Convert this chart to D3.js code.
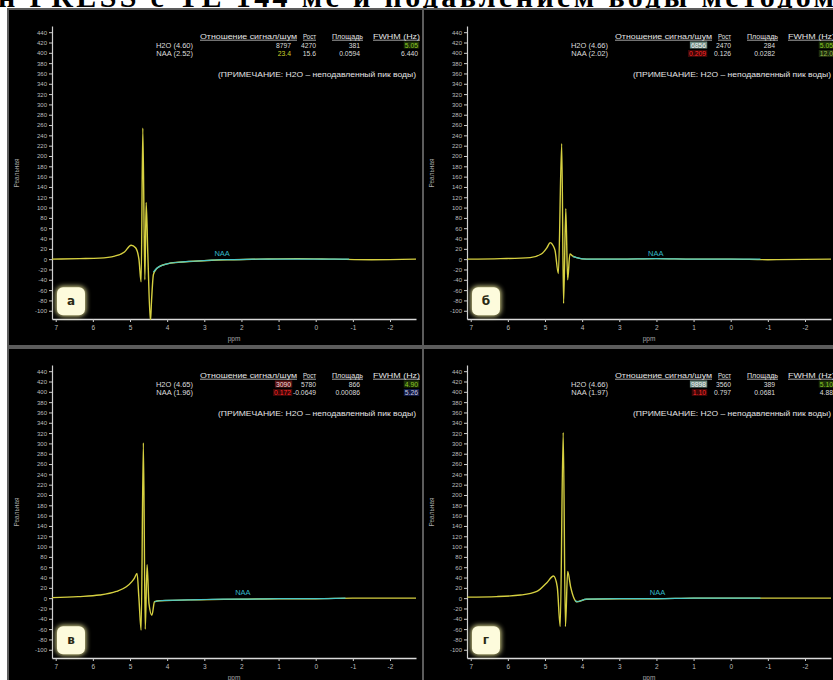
<!DOCTYPE html>
<html lang="ru">
<head>
<meta charset="utf-8">
<script src="https://cdn.jsdelivr.net/npm/d3@7"></script>
<style>
html, body { margin: 0; padding: 0; background: #fff; }
svg { display: block; }
</style>
</head>
<body>
<script>
// ---- data ----
const titleText = "н PRESS с TE 144 мс и подавлением воды методом";
const panelLetters = ["а", "б", "в", "г"];
const xTicks = [7, 6, 5, 4, 3, 2, 1, 0, -1, -2];
const yTicks = [440, 420, 400, 380, 360, 340, 320, 300, 280, 260, 240, 220, 200, 180, 160, 140, 120, 100, 80, 60, 40, 20, 0, -20, -40, -60, -80, -100];
const xTitle = "ppm";
const yTitle = "Реальная";

const tableHeaders = ["Отношение сигнал/шум", "Рост", "Площадь", "FWHM (Hz)"];
const noteText = "(ПРИМЕЧАНИЕ: H2O – неподавленный пик воды)";
const h2oLabels = ["H2O (4.60)", "H2O (4.66)", "H2O (4.65)", "H2O (4.66)"];
const naaLabels = ["NAA (2.52)", "NAA (2.02)", "NAA (1.96)", "NAA (1.97)"];
const naaPpm = [2.52, 2.02, 1.96, 1.97];
const h2oSnr = ["8797", "6856", "3090", "9898"];
const h2oPeak = ["4270", "2470", "5780", "3560"];
const h2oArea = ["381", "284", "866", "389"];
const h2oFwhm = ["5.05", "5.05", "4.90", "5.10"];
const naaSnr = ["23.4", "0.209", "0.172", "1.10"];
const naaPeak = ["15.6", "0.126", "-0.0649", "0.797"];
const naaArea = ["0.0594", "0.0282", "0.00086", "0.0681"];
const naaFwhm = ["6.440", "12.0", "5.26", "4.88"];
// quality flags shown by the software next to each value
const h2oSnrFlag = ["normal", "muted", "alert", "muted"];
const naaSnrFlag = ["good", "fail", "fail", "fail"];
const h2oFwhmFlag = ["pass", "pass", "pass", "pass"];
const naaFwhmFlag = ["normal", "dim", "low", "normal"];

// measured spectra (ppm, real part)
const specPpmA = [7.10, 6.35, 5.82, 5.41, 5.15, 4.97, 4.85, 4.76, 4.70, 4.655, 4.60, 4.565, 4.52, 4.45, 4.42, 4.37, 4.30, 4.20, 4.00, 3.70, 3.30, 2.80, 2.20, 1.50, 0.50, -0.50, -1.50, -2.70];
const specValA = [0, 1, 2, 6, 14, 27, 22, 0, -44, 254, -40, 110, 10, -120, -80, -30, -20, -14, -9, -6, -4, -2, -1, 0, 1, 0, -1, 0];
const specPpmB = [7.09, 6.20, 5.40, 5.10, 4.95, 4.86, 4.78, 4.73, 4.64, 4.55, 4.50, 4.44, 4.39, 4.33, 4.25, 4.15, 3.88, 3.00, 2.00, 1.00, 0.00, -1.00, -2.70];
const specValB = [0, 1, 3, 10, 22, 32, 26, 17, -28, 224, -86, 98, -40, 10, 6, 3, 0, 0, 1, 0, 0, -1, 0];
const specPpmC = [7.10, 6.40, 5.82, 5.37, 5.10, 4.95, 4.88, 4.81, 4.76, 4.70, 4.64, 4.59, 4.54, 4.49, 4.41, 4.34, 4.20, 3.13, 2.00, 1.00, 0.00, -1.00, -2.70];
const specValC = [1, 3, 6, 13, 22, 32, 39, 48, 0, -62, 301, -60, 65, -10, -33, -7, -5, -3, -2, -1, -1, 0, 0];
const specPpmD = [7.09, 6.30, 5.66, 5.22, 4.95, 4.77, 4.67, 4.59, 4.51, 4.45, 4.39, 4.31, 4.22, 4.15, 3.88, 3.00, 2.00, 1.00, 0.00, -1.00, -2.70];
const specValD = [2, 3, 6, 13, 30, 43, 22, -55, 321, -55, 52, 22, 0, -7, -2, -1, -1, 0, 0, 0, 0];

// fitted baseline + NAA model
const fitPpmA = [4.37, 4.30, 4.20, 4.00, 3.70, 3.30, 2.80, 2.52, 2.20, 1.50, 0.50, -0.20, -0.90];
const fitValA = [-25, -19, -14, -9, -6, -4, -2, -1, -1, 0, 0, 0, 0];
const fitPpmB = [4.25, 4.15, 3.88, 3.00, 2.02, 1.00, 0.00, -0.80];
const fitValB = [5, 3, 0, 0, 1, 0, 0, 0];
const fitPpmC = [4.34, 4.20, 3.13, 2.50, 1.96, 1.00, 0.00, -0.80];
const fitValC = [-7, -5, -3, -2, -2, -1, -1, 0];
const fitPpmD = [4.18, 4.15, 3.88, 3.00, 1.97, 1.00, 0.00, -0.80];
const fitValD = [-4, -7, -2, -1, -1, 0, 0, 0];

const specPpm = [specPpmA, specPpmB, specPpmC, specPpmD];
const specVal = [specValA, specValB, specValC, specValD];
const fitPpm = [fitPpmA, fitPpmB, fitPpmC, fitPpmD];
const fitVal = [fitValA, fitValB, fitValC, fitValD];

// ---- drawing ----
const W = 833, H = 680;
const svg = d3.select("body").append("svg").attr("width", W).attr("height", H);
svg.append("rect").attr("width", W).attr("height", H).attr("fill", "#fff");

const defs = svg.append("defs");
const glow = defs.append("filter").attr("id", "glow")
  .attr("x", "-50%").attr("y", "-50%").attr("width", "200%").attr("height", "200%");
glow.append("feGaussianBlur").attr("stdDeviation", 2.6);

// heading line running off the top edge above the panels
svg.append("text")
  .attr("x", -2).attr("y", 7)
  .attr("font-family", "Liberation Serif, Times New Roman, serif")
  .attr("font-weight", "bold").attr("font-size", 30)
  .attr("textLength", 836).attr("lengthAdjust", "spacing")
  .attr("fill", "#000")
  .text(titleText);

const flagStyle = {
  normal: { fill: "#dcdcdc", bg: null },
  good:   { fill: "#cfd22a", bg: null },
  pass:   { fill: "#8cc824", bg: "#1c3008" },
  muted:  { fill: "#f4f4f4", bg: "#6c8a80" },
  alert:  { fill: "#f0d8d8", bg: "#5a1414" },
  fail:   { fill: "#ff2a2a", bg: "#3c0606" },
  dim:    { fill: "#9ab84a", bg: "#1e2e0e" },
  low:    { fill: "#c8c8e0", bg: "#121a44" }
};

const sansFont = "Liberation Sans, Arial, sans-serif";
const axisColor = "#cfcfcf";
const plainNum = d => String(d);

panelLetters.forEach((letter, i) => {
  const col = i % 2, row = Math.floor(i / 2);
  const ox = col * 415, oy = row * 339;
  const g = svg.append("g").attr("transform", `translate(${ox},${oy})`);

  g.append("rect")
    .attr("x", 8).attr("y", 9).attr("width", 416).attr("height", 337)
    .attr("fill", "#000").attr("stroke", "#5c5c5c").attr("stroke-width", 2);

  const x = d3.scaleLinear().domain([7.1, -2.7]).range([52, 416]);
  const y = d3.scaleLinear().domain([-116, 452]).range([319, 26]);

  const clipId = "clip" + i;
  defs.append("clipPath").attr("id", clipId)
    .append("rect").attr("x", ox + 52).attr("y", oy + 20).attr("width", 366).attr("height", 300);

  // y axis
  const ya = g.append("g").attr("transform", "translate(52,0)")
    .call(d3.axisLeft(y).tickValues(yTicks).tickFormat(plainNum).tickSize(3).tickSizeOuter(0).tickPadding(2));
  ya.select(".domain").attr("stroke", axisColor).attr("stroke-width", 1.2);
  ya.selectAll(".tick line").attr("stroke", axisColor);
  ya.selectAll(".tick text").attr("fill", "#bdbdbd").attr("font-size", 6).attr("font-family", sansFont);

  // x axis
  const xa = g.append("g").attr("transform", "translate(0,319)")
    .call(d3.axisBottom(x).tickValues(xTicks).tickFormat(plainNum).tickSize(3).tickSizeOuter(0).tickPadding(3));
  xa.select(".domain").attr("stroke", "#dadada").attr("stroke-width", 1.6);
  xa.selectAll(".tick line").attr("stroke", axisColor);
  xa.selectAll(".tick text").attr("fill", "#bdbdbd").attr("font-size", 6.5).attr("font-family", sansFont);

  g.append("text").attr("x", 234).attr("y", 341).attr("text-anchor", "middle")
    .attr("fill", "#a8a8a8").attr("font-size", 6.5).attr("font-family", sansFont).text(xTitle);
  g.append("text").attr("transform", "translate(19,173) rotate(-90)").attr("text-anchor", "middle")
    .attr("fill", "#a8a8a8").attr("font-size", 6.5).attr("font-family", sansFont).text(yTitle);

  // spectra
  const line = d3.line().x(d => x(d[0])).y(d => y(d[1])).curve(d3.curveMonotoneX);
  const plot = svg.append("g").attr("clip-path", `url(#${clipId})`)
    .append("g").attr("transform", `translate(${ox},${oy})`);
  plot.append("path")
    .attr("d", line(d3.zip(specPpm[i], specVal[i])))
    .attr("fill", "none").attr("stroke", "#d6d040").attr("stroke-width", 1.4)
    .attr("stroke-linejoin", "round");
  plot.append("path")
    .attr("d", line(d3.zip(fitPpm[i], fitVal[i])))
    .attr("fill", "none").attr("stroke", "#4cc8c8").attr("stroke-width", 1.2);

  // metabolite label
  g.append("text").attr("x", x(naaPpm[i])).attr("y", y(0) - 3.5).attr("text-anchor", "middle")
    .attr("fill", "#34b8c8").attr("font-size", 7.5).attr("font-family", sansFont).text("NAA");

  // results table
  const headerSpans = [[200, 297], [303, 316], [332, 363], [373, 420]];
  tableHeaders.forEach((h, k) => {
    const [a, b] = headerSpans[k];
    g.append("text").attr("x", a).attr("y", 38.5)
      .attr("textLength", b - a).attr("lengthAdjust", "spacingAndGlyphs")
      .attr("fill", "#e4e4e4").attr("font-size", 7.5).attr("font-family", sansFont).text(h);
    g.append("line").attr("x1", a).attr("x2", b).attr("y1", 40.2).attr("y2", 40.2)
      .attr("stroke", "#d0d0d0").attr("stroke-width", 0.8);
  });

  const colRight = [291, 316, 360, 418];
  const rows = [
    { label: h2oLabels[i], vals: [h2oSnr[i], h2oPeak[i], h2oArea[i], h2oFwhm[i]], flags: [h2oSnrFlag[i], "normal", "normal", h2oFwhmFlag[i]], y: 47.5 },
    { label: naaLabels[i], vals: [naaSnr[i], naaPeak[i], naaArea[i], naaFwhm[i]], flags: [naaSnrFlag[i], "normal", "normal", naaFwhmFlag[i]], y: 56 }
  ];
  rows.forEach(r => {
    g.append("text").attr("x", 193).attr("y", r.y).attr("text-anchor", "end")
      .attr("fill", "#dcdcdc").attr("font-size", 7.5).attr("font-family", sansFont).text(r.label);
    r.vals.forEach((v, k) => {
      const st = flagStyle[r.flags[k]];
      const t = g.append("text").attr("x", colRight[k]).attr("y", r.y).attr("text-anchor", "end")
        .attr("fill", st.fill).attr("font-size", 6.8).attr("font-family", sansFont).text(v);
      if (st.bg) {
        const bb = t.node().getBBox();
        g.insert("rect", () => t.node())
          .attr("x", bb.x - 1).attr("y", bb.y).attr("width", bb.width + 2).attr("height", bb.height)
          .attr("fill", st.bg);
      }
    });
  });

  g.append("text").attr("x", 416).attr("y", 77).attr("text-anchor", "end")
    .attr("textLength", 198).attr("lengthAdjust", "spacingAndGlyphs")
    .attr("fill", "#e4e4e4").attr("font-size", 7.5).attr("font-family", sansFont).text(noteText);

  // panel letter badge
  const bx = 57, by = y(0) + 28;
  g.append("rect").attr("x", bx - 1).attr("y", by - 1).attr("width", 30).attr("height", 30).attr("rx", 7)
    .attr("fill", "#f4f0a0").attr("opacity", 0.9).attr("filter", "url(#glow)");
  g.append("rect").attr("x", bx).attr("y", by).attr("width", 28).attr("height", 28).attr("rx", 6)
    .attr("fill", "#fdfbdc");
  g.append("text").attr("x", bx + 14).attr("y", by + 18).attr("text-anchor", "middle")
    .attr("fill", "#2a2a14").attr("font-size", 12).attr("font-weight", "bold")
    .attr("font-family", "DejaVu Sans, sans-serif").text(letter);
});
</script>
</body>
</html>
